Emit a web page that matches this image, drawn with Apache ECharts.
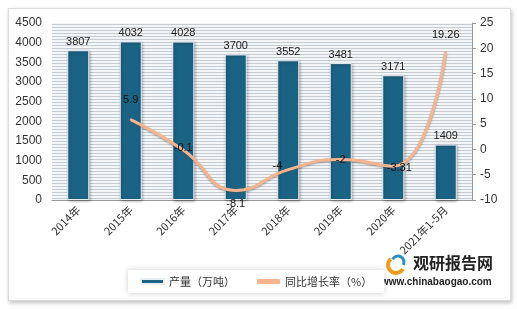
<!DOCTYPE html>
<html><head><meta charset="utf-8">
<script src="https://cdn.jsdelivr.net/npm/echarts@6/dist/echarts.min.js"></script>
<style>
html,body{margin:0;padding:0;background:#fff;}
#frame{position:absolute;left:8px;top:8px;width:501px;height:291px;border:1px solid #ddd;box-shadow:1px 2px 4px rgba(0,0,0,0.25);background:#fff;}
#c{position:absolute;left:0;top:0;width:517px;height:309px;}
</style></head>
<body>
<div id="frame"></div>
<div id="c"></div>
<script>
const categories = ['2014年','2015年','2016年','2017年','2018年','2019年','2020年','2021年1-5月'];
const production = [3807, 4032, 4028, 3700, 3552, 3481, 3171, 1409];
const growth = [null, 5.9, -0.1, -8.1, -4, -2, -3.31, 19.26];
const leftTicks = [0, 4500, 500];
const rightTicks = [-10, 25, 5];

const pc = document.createElement('canvas');
pc.width = 4; pc.height = 3;
const pctx = pc.getContext('2d');
pctx.fillStyle = '#f4f6f8'; pctx.fillRect(0,0,4,3);
pctx.fillStyle = '#c3ccd4'; pctx.fillRect(0,0,4,1);

const labelPos = ['top','top','inside','bottom','left','inside','inside','top'];
const labelOff = [[0,0],[0,-8],[0,-2],[0,2],[0,-4],[0,0],[6,2],[0,-6]];
const lineData = growth.map((v,i)=>({value:v,label:{position:labelPos[i],offset:labelOff[i]}}));

const chart = echarts.init(document.getElementById('c'), null, {renderer:'canvas'});
chart.setOption({
  animation:false,
  backgroundColor:'transparent',
  grid:{left:52,right:45,top:23,bottom:109,show:true,borderWidth:0,backgroundColor:{image:pc,repeat:'repeat'}},
  legend:{
    bottom:16,left:128,itemGap:22,itemWidth:23,itemHeight:5,
    backgroundColor:'#fff',shadowColor:'rgba(0,0,0,0.2)',shadowBlur:6,padding:[6,12],
    textStyle:{fontSize:11,color:'#333',fontFamily:'Noto Sans CJK SC'},
    data:[{name:'产量（万吨）',icon:'rect'},{name:'同比增长率（%）',icon:'roundRect',itemStyle:{color:'#f7b38d'}}]
  },
  xAxis:{type:'category',data:categories,
    axisLine:{lineStyle:{color:'#999'}},axisTick:{show:false},
    axisLabel:{rotate:45,fontSize:11,color:'#333',interval:0,margin:8,fontFamily:'Noto Sans CJK SC'}},
  yAxis:[
    {type:'value',min:leftTicks[0],max:leftTicks[1],interval:leftTicks[2],
     axisLine:{show:false},axisTick:{show:false},splitLine:{show:false},
     axisLabel:{fontSize:12,color:'#333',margin:10,formatter:v=>String(v)}},
    {type:'value',min:rightTicks[0],max:rightTicks[1],interval:rightTicks[2],
     axisLine:{show:true,lineStyle:{color:'#999'}},axisTick:{show:true,length:4,lineStyle:{color:'#999'}},splitLine:{show:false},
     axisLabel:{fontSize:12,color:'#333',margin:8,formatter:v=>String(v)}}
  ],
  series:[
    {name:'产量（万吨）',type:'bar',data:production,barWidth:22,
     itemStyle:{color:'#1b6384',borderColor:'#e8eef2',borderWidth:1,shadowColor:'rgba(0,0,0,0.35)',shadowBlur:3,shadowOffsetX:1,shadowOffsetY:1},
     label:{show:true,position:'top',fontSize:11,color:'#222',distance:3}},
    {name:'同比增长率（%）',type:'line',yAxisIndex:1,data:lineData,smooth:true,showSymbol:true,symbol:'circle',symbolSize:2,
     connectNulls:false,
     lineStyle:{color:'#f7b38d',width:3,shadowColor:'rgba(80,80,80,0.5)',shadowBlur:2,shadowOffsetY:1},
     itemStyle:{color:'#f7b38d'},
     label:{show:true,fontSize:11,color:'#111',formatter:p=>String(p.value)}}
  ],
  graphic:[
    {type:'text',left:413,top:255,style:{text:'观研报告网',fontSize:16,fontWeight:'bold',fill:'#222',fontFamily:'Noto Sans CJK SC'}},
    {type:'text',left:381,top:277,style:{text:'www.chinabaogao.com',fontSize:10,fontWeight:'bold',fill:'#222'}},
    {type:'arc',shape:{cx:396,cy:265,r:8,startAngle:0.5,endAngle:4},style:{fill:'none',stroke:'#f39a1e',lineWidth:4}},
    {type:'arc',shape:{cx:398,cy:262,r:6,startAngle:3.6,endAngle:6.8},style:{fill:'none',stroke:'#2a8fc0',lineWidth:3}}
  ]
});
</script>
</body></html>
